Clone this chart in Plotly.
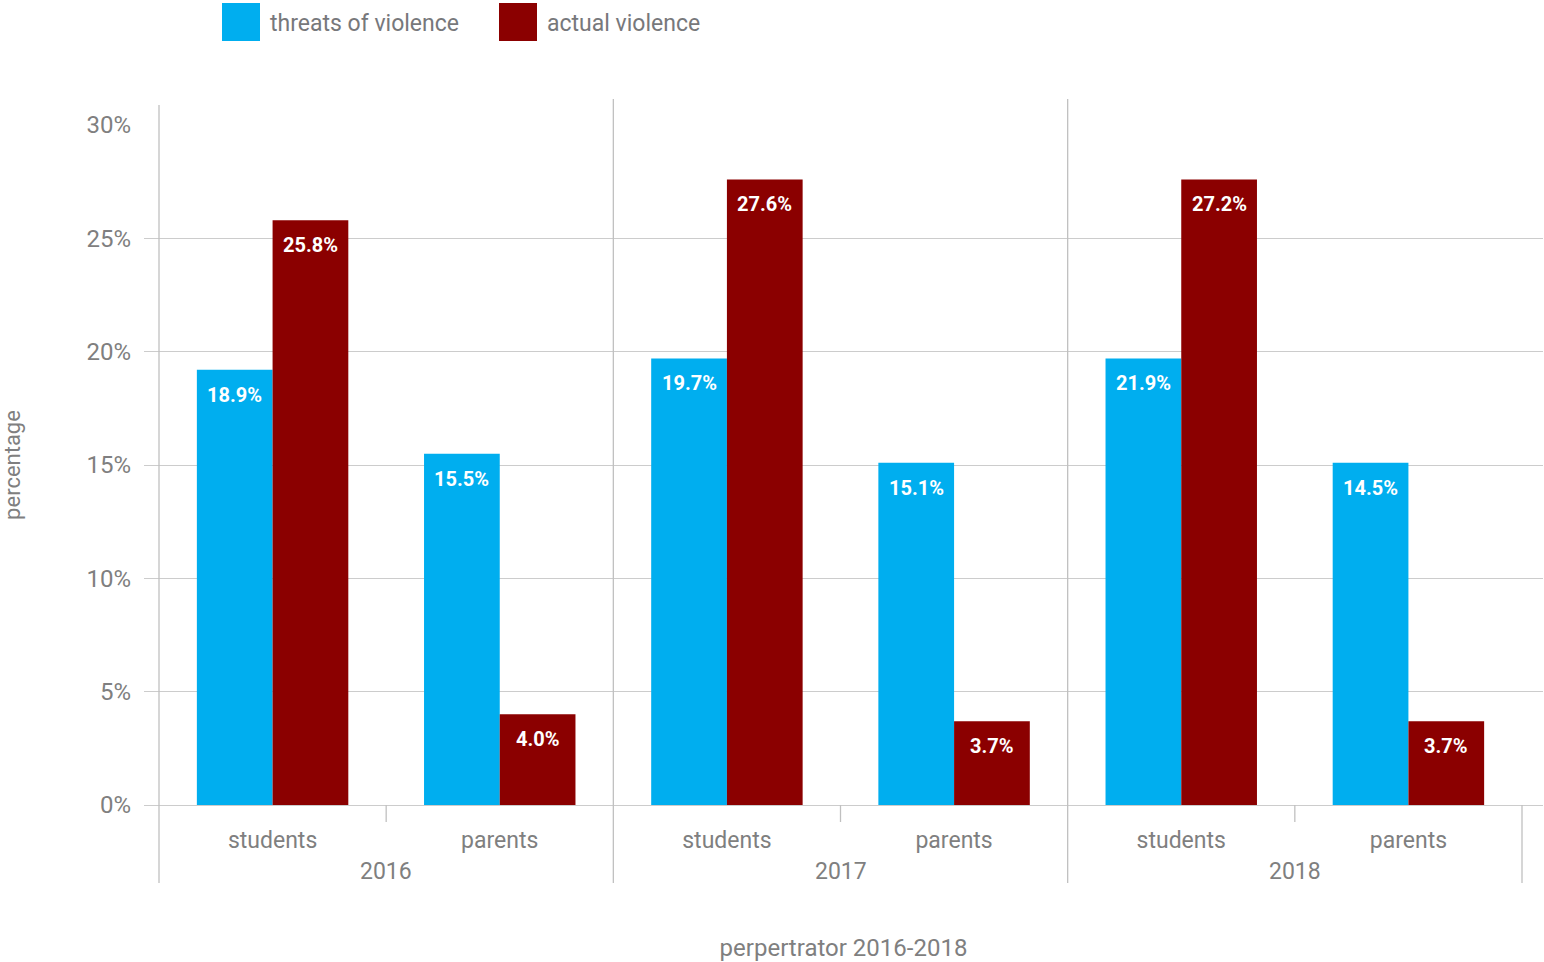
import plotly.graph_objects as go

# ---- data ----
years = ["2016", "2017", "2018"]
perpetrators = ["students", "parents"]
series_names = ["threats of violence", "actual violence"]
threats_values = [19.2, 15.5, 19.7, 15.1, 19.7, 15.1]
actual_values = [25.8, 4.0, 27.6, 3.7, 27.6, 3.7]
threats_labels = ["18.9%", "15.5%", "19.7%", "15.1%", "21.9%", "14.5%"]
actual_labels = ["25.8%", "4.0%", "27.6%", "3.7%", "27.2%", "3.7%"]
y_ticks = [0, 5, 10, 15, 20, 25, 30]
y_tick_text = ["0%", "5%", "10%", "15%", "20%", "25%", "30%"]

BLUE = "#00AEEF"
RED = "#8B0000"
GRAY = "#7f7f80"
GRID = "#cccccc"
FONT = "Roboto"

W, H = 1544, 962
L, R, T, B = 144, 1, 125, 157
pw, ph = W - L - R, H - T - B

n = len(years) * len(perpetrators)
xs = list(range(n))
cat_px = (1522 - 159) / n
x_lo = -0.5 - (159 - L) / cat_px
x_hi = x_lo + pw / cat_px


def py(p):  # pixel y -> paper
    return (H - B - p) / ph


def px(p):  # pixel x -> paper
    return (p - L) / pw


fig = go.Figure()
fig.add_trace(go.Bar(x=xs, y=threats_values, name=series_names[0], marker_color=BLUE,
                     marker_line_width=0, showlegend=False))
fig.add_trace(go.Bar(x=xs, y=actual_values, name=series_names[1], marker_color=RED,
                     marker_line_width=0, showlegend=False))

annotations = []
shapes = []

# data labels
for i in range(n):
    for off, vals, labs in ((-1 / 6, threats_values, threats_labels), (1 / 6, actual_values, actual_labels)):
        annotations.append(dict(x=i + off, y=vals[i], xref="x", yref="y", text=labs[i],
                                showarrow=False, yanchor="middle", yshift=-25,
                                font=dict(family=FONT, size=20, color="white", weight=700)))

# year labels
for k, yr in enumerate(years):
    annotations.append(dict(x=2 * k + 0.5, y=py(871), xref="x", yref="paper", text=yr,
                            showarrow=False, yanchor="middle",
                            font=dict(family=FONT, size=23, color=GRAY)))

# separators / axis lines
line = dict(color="#c0c0c0", width=1.3)
shapes.append(dict(type="line", xref="x", yref="paper", x0=-0.5, x1=-0.5, y0=py(883), y1=py(105), line=line))
for b in (1.5, 3.5):
    shapes.append(dict(type="line", xref="x", yref="paper", x0=b, x1=b, y0=py(883), y1=py(99), line=line))
shapes.append(dict(type="line", xref="x", yref="paper", x0=5.5, x1=5.5, y0=py(883), y1=py(805), line=line))
for b in (0.5, 2.5, 4.5):
    shapes.append(dict(type="line", xref="x", yref="paper", x0=b, x1=b, y0=py(822), y1=py(805), line=line))

# legend
legend_items = [(series_names[0], BLUE, 222), (series_names[1], RED, 499)]
for name, col, x0 in legend_items:
    shapes.append(dict(type="rect", xref="paper", yref="paper", x0=px(x0), x1=px(x0 + 38),
                       y0=py(41), y1=py(3), fillcolor=col, line=dict(width=0)))
    annotations.append(dict(x=px(x0 + 46), y=py(23), xref="paper", yref="paper", text=name,
                            showarrow=False, xanchor="left", yanchor="middle",
                            font=dict(family=FONT, size=23, color="#77787b")))

fig.update_layout(
    width=W, height=H,
    margin=dict(l=L, r=R, t=T, b=B, autoexpand=False),
    plot_bgcolor="white", paper_bgcolor="white",
    barmode="group", bargap=1 / 3, bargroupgap=0,
    font=dict(family=FONT, color=GRAY),
    shapes=shapes, annotations=annotations,
    xaxis=dict(range=[x_lo, x_hi], tickmode="array", tickvals=xs,
               ticktext=perpetrators * len(years), showgrid=False, zeroline=False,
               showline=False, ticks="", ticklabelstandoff=19,
               tickfont=dict(family=FONT, size=23, color=GRAY),
               title=dict(text="perpertrator 2016-2018", standoff=90,
                          font=dict(family=FONT, size=24, color=GRAY))),
    yaxis=dict(range=[0, 30], tickmode="array", tickvals=y_ticks, ticktext=y_tick_text,
               showgrid=True, gridcolor=GRID, gridwidth=1.3, zeroline=True,
               zerolinecolor=GRID, zerolinewidth=1.3, ticks="", ticklabelstandoff=12,
               tickfont=dict(family=FONT, size=24, color=GRAY),
               title=dict(text="percentage", standoff=62,
                          font=dict(family=FONT, size=22, color=GRAY))),
)

fig.write_html("out.html", config={"displayModeBar": False},
               post_script="document.body.style.margin='0';document.body.style.overflow='hidden';")
